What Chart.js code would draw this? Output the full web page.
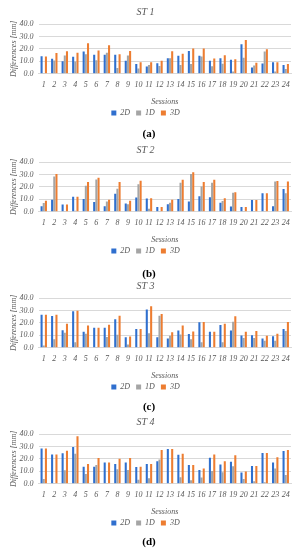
<!DOCTYPE html>
<html>
<head>
<meta charset="utf-8">
<script src="https://cdn.jsdelivr.net/npm/chart.js@4/dist/chart.umd.min.js"></script>
<style>
  html, body { margin: 0; padding: 0; background: #ffffff; }
  #wrap { position: relative; width: 298px; height: 550px; overflow: hidden; }
  .panel { position: absolute; left: 0; width: 298px; height: 127px; }
  .sub { position: absolute; left: 0; width: 298px; text-align: center; font-family: 'Liberation Serif', serif; font-weight: bold; font-size: 11px; line-height: 14px; color: #000; z-index: 2; }
</style>
</head>
<body>
<div id="wrap">
  <div class="panel" style="top:0px"><canvas id="c1" width="298" height="127"></canvas></div>
  <div class="sub" style="top:126px">(a)</div>
  <div class="panel" style="top:138px"><canvas id="c2" width="298" height="127"></canvas></div>
  <div class="sub" style="top:266px">(b)</div>
  <div class="panel" style="top:274px"><canvas id="c3" width="298" height="127"></canvas></div>
  <div class="sub" style="top:399px">(c)</div>
  <div class="panel" style="top:410px"><canvas id="c4" width="298" height="127"></canvas></div>
  <div class="sub" style="top:534px">(d)</div>
</div>
<script>
const sessions = ['1','2','3','4','5','6','7','8','9','10','11','12','13','14','15','16','17','18','19','20','21','22','23','24'];
const seriesNames = ['2D', '1D', '3D'];
const panelTitles = ['ST 1', 'ST 2', 'ST 3', 'ST 4'];
const yTicks = [0, 10, 20, 30, 40];

const st1_2D = [14, 12, 10, 13.7, 18, 15.4, 15.4, 15.4, 10.4, 7.9, 5.8, 8.4, 12.4, 14.5, 18.4, 14.5, 10.4, 12.4, 11.3, 23.8, 5, 8.2, 9.3, 7];
const st1_1D = [0.3, 10.6, 14.7, 9.8, 15.8, 10.9, 16.9, 4.6, 14.6, 4.2, 7, 6.3, 12.5, 7, 7.8, 13.8, 6, 8.1, 1.8, 12.9, 6.7, 18, 1.8, 3.8];
const st1_3D = [13.8, 16.8, 18.2, 17, 24.6, 18.8, 22.9, 15.8, 18.4, 9.2, 9.2, 10.5, 18.2, 16.2, 20.3, 20.4, 12.3, 14.8, 11.6, 27.2, 8.8, 19.8, 9.3, 7.8];

const st2_2D = [4.5, 9.7, 5.8, 12, 10.3, 7.8, 4.4, 14.4, 6.7, 11.4, 10.6, 3.9, 6.1, 10.3, 8.3, 12.5, 11.7, 7.2, 4.2, 3.9, 9.4, 15, 4.4, 18.3];
const st2_1D = [7, 28.3, 0.3, 0.8, 21, 26, 8.3, 18.6, 6.1, 22.2, 2.5, 0.3, 7.2, 23.3, 30.3, 20.3, 23.3, 8.6, 15.3, 0.3, 0.3, 0.3, 24.4, 15];
const st2_3D = [8.9, 30.3, 5.8, 12, 23.9, 27.3, 9.7, 24, 8.9, 25, 10.8, 3.9, 9.7, 25.8, 31.7, 23.9, 25.8, 10.8, 15.8, 3.9, 9.4, 15, 24.7, 24.4];

const st3_2D = [26.5, 25.6, 14, 29.4, 12.8, 16.1, 16.1, 22.9, 8.4, 15.2, 30.8, 8.4, 7.5, 13.9, 11, 20.5, 12.8, 18.3, 13.9, 9.9, 10.1, 7.5, 9.3, 15.2];
const st3_1D = [1.8, 6.9, 12, 4.5, 11.3, 0.3, 8.7, 10.4, 2.7, 0.3, 11.6, 25.7, 9.6, 10.7, 6.9, 4.5, 0.3, 4.5, 20.9, 7.8, 7.8, 5.7, 5.7, 13.4];
const st3_3D = [26.5, 26.5, 19.4, 29.7, 17.9, 16.1, 18.5, 25.7, 9, 15.2, 33.4, 27.2, 12.5, 17.9, 13.1, 20.8, 12.8, 19.3, 25.4, 12.8, 13.4, 9.6, 11.3, 20.8];

const st4_2D = [28.3, 23.6, 24.5, 29.5, 13.7, 13.7, 17.2, 16, 17.2, 13.4, 16, 18.1, 28, 23.4, 15.2, 11.1, 21, 15.5, 17.8, 9, 14.3, 24.8, 17.2, 26.3];
const st4_1D = [3.8, 0.6, 10.8, 24.2, 7.9, 15.2, 0.6, 11.7, 11.1, 3.2, 4.4, 19.6, 0.3, 5.3, 2.9, 5, 10.2, 9.3, 14, 3.8, 2, 1.2, 12.2, 7];
const st4_3D = [28.3, 23.6, 26.6, 38.2, 16, 20.7, 17.2, 20.1, 20.7, 13.7, 16, 27.2, 28, 24.2, 15.2, 12.3, 23.6, 18.1, 23, 9.9, 14.3, 24.8, 21.3, 27.2];

const colors = ['#2F6FCE', '#A5A5A5', '#ED7D31'];
const FONT = "'Liberation Serif', serif";
const TXT = '#595959';

function makePanel(id, title, d2, d1, d3) {
  const data = [d2, d1, d3];
  new Chart(document.getElementById(id), {
    type: 'bar',
    data: {
      labels: sessions,
      datasets: seriesNames.map((n, i) => ({
        label: n,
        data: data[i],
        backgroundColor: colors[i],
        borderWidth: 0,
        categoryPercentage: 0.62,
        barPercentage: 0.95
      }))
    },
    options: {
      responsive: false,
      animation: false,
      devicePixelRatio: 1,
      layout: { padding: { left: 0, right: 7, top: 0, bottom: 0 } },
      plugins: {
        title: {
          display: true,
          text: title,
          color: TXT,
          font: { family: FONT, style: 'italic', size: 10, weight: 'normal' },
          padding: { top: 6, bottom: 6 }
        },
        legend: {
          position: 'bottom',
          labels: {
            boxWidth: 5,
            boxHeight: 5,
            padding: 6,
            color: TXT,
            font: { family: FONT, style: 'italic', size: 8 }
          }
        },
        tooltip: { enabled: false }
      },
      scales: {
        x: {
          grid: { display: false, drawTicks: false },
          border: { display: true, color: '#D9D9D9' },
          ticks: { color: TXT, padding: 6, maxRotation: 0, autoSkip: false, font: { family: FONT, style: 'italic', size: 8 } },
          title: { display: true, text: 'Sessions', color: TXT, padding: { top: 2, bottom: -4 }, font: { family: FONT, style: 'italic', size: 8 } }
        },
        y: {
          min: 0, max: 40,
          afterFit: (s) => { s.width = 38.5; },
          afterBuildTicks: (s) => { s.ticks = yTicks.map(v => ({ value: v })); },
          grid: { color: '#D9D9D9', drawTicks: false },
          border: { display: false },
          ticks: { color: TXT, padding: 5, autoSkip: false, font: { family: FONT, style: 'italic', size: 8 }, callback: (v) => Number(v).toFixed(1) },
          title: { display: true, text: 'Differences [mm]', color: TXT, padding: { top: 9, bottom: 0 }, font: { family: FONT, style: 'italic', size: 8 } }
        }
      }
    }
  });
}

makePanel('c1', panelTitles[0], st1_2D, st1_1D, st1_3D);
makePanel('c2', panelTitles[1], st2_2D, st2_1D, st2_3D);
makePanel('c3', panelTitles[2], st3_2D, st3_1D, st3_3D);
makePanel('c4', panelTitles[3], st4_2D, st4_1D, st4_3D);
</script>
</body>
</html>
